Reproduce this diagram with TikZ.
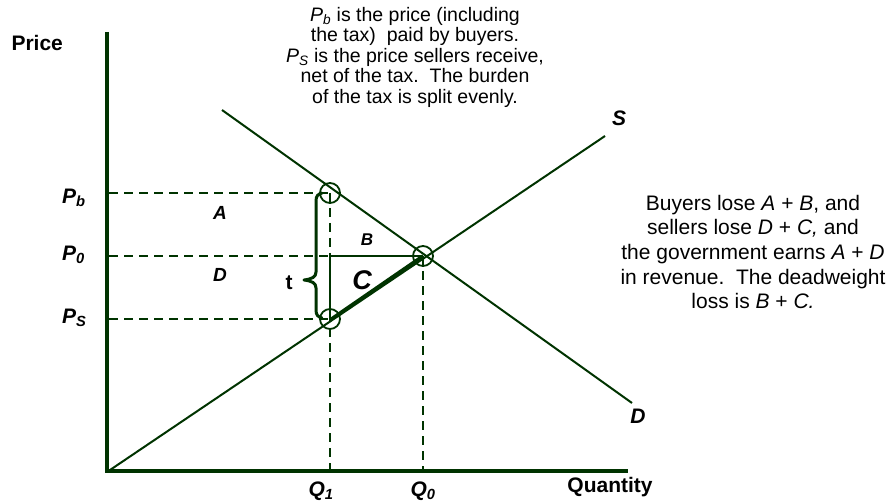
\documentclass[tikz,border=0pt]{standalone}
\usepackage{fontspec}
\setmainfont{Liberation Sans}
\definecolor{dg}{RGB}{0,51,0}
\begin{document}
\begin{tikzpicture}[x=1pt,y=-1pt,
  axisline/.style={line width=4.5pt, draw=dg},
  curveline/.style={line width=2pt, draw=dg},
  guide/.style={line width=2pt, draw=dg, dash pattern=on 9pt off 6pt},
  ring/.style={circle, draw=dg, line width=1.8pt, minimum size=20pt, inner sep=0pt},
  bracepath/.style={line width=3pt, draw=dg, line cap=round, line join=round},
  axlbl/.style={font=\bfseries\fontsize{21}{24}\selectfont, text=black},
  plbl/.style={font=\bfseries\itshape\fontsize{21}{24}\selectfont, text=black, inner sep=0pt},
  note/.style={align=center, text=black, inner sep=0pt}]
\useasboundingbox (0,0) rectangle (890,502);

% coordinates
\coordinate (ytop) at (107,32);
\coordinate (O) at (107,471);
\coordinate (xend) at (628,471);
\coordinate (yPb) at (109,193);
\coordinate (yP0) at (109,256);
\coordinate (yPs) at (109,319);
\coordinate (xQ1) at (330,469);
\coordinate (xQ0) at (423,469);
\coordinate (Sbot) at (110,470);
\coordinate (Stop) at (605,136);
\coordinate (Dtop) at (222,110);
\coordinate (Dbot) at (632,403);
\coordinate (P0Q1) at (330,256);

% guide lines
\draw[guide] (yPb) -- (330,193);
\draw[guide] (yP0) -- (P0Q1);
\draw[guide] (yPs) -- (330,319);
\draw[guide] (330,193) -- (xQ1);
\draw[guide] (423,256) -- (xQ0);

% triangle sides
\draw[line width=1.5pt, draw=dg] (P0Q1) -- (330,319);
\draw[line width=2.5pt, draw=dg] (P0Q1) -- (423,256);

% supply and demand
\draw[curveline] (Sbot) -- (Stop);
\draw[curveline] (Dtop) -- (Dbot);
\draw[line width=3.5pt, draw=dg] (330,320) -- (423,256);

% axes
\draw[axisline, line join=miter] (ytop) -- (O) -- (xend);

% rings
\node[ring] (Pbpt) at (330,193) {};
\node[ring] (Pspt) at (330,319) {};
\node[ring] (Ept) at (423,256) {};

% brace
\draw[bracepath] (322,193) .. controls (318,194) and (316,196) .. (316,201)
  -- (316,272) .. controls (316,277) and (312,279) .. (304,280)
  .. controls (312,281) and (316,283) .. (316,288)
  -- (316,310) .. controls (316,315) and (318,317) .. (322,318);

% labels
\node[axlbl, anchor=west] (price) at (8,43) {Price};
\node[axlbl] (qty) at (610,487) {Quantity};
\node[plbl, anchor=west] (lPb) at (62,198) {P\textsubscript{b}};
\node[plbl, anchor=west] (lP0) at (62,255) {P\textsubscript{0}};
\node[plbl, anchor=west] (lPs) at (62,318) {P\textsubscript{S}};
\node[plbl] (lQ1) at (321,491) {Q\textsubscript{1}};
\node[plbl] (lQ0) at (423,491) {Q\textsubscript{0}};
\node[plbl] (lS) at (619,118) {S};
\node[plbl] (lD) at (638,416) {D};
\node[plbl, font=\bfseries\itshape\fontsize{19}{22}\selectfont] (lA) at (220,213) {A};
\node[plbl, font=\bfseries\itshape\fontsize{19}{22}\selectfont] (lDD) at (220,275) {D};
\node[plbl, font=\bfseries\itshape\fontsize{17}{20}\selectfont] (lB) at (367,240) {B};
\node[plbl, font=\bfseries\itshape\fontsize{27}{30}\selectfont] (lC) at (362,280) {C};
\node[plbl, font=\bfseries\fontsize{21}{24}\selectfont] (lt) at (289,283) {t};

% notes
\node[note, font=\fontsize{19.5}{20.5}\selectfont] (topnote) at (415,57)
  {\textit{P}\textsubscript{\textit{b}} is the price (including\\
   the tax)\ \ paid by buyers.\\
   \textit{P}\textsubscript{\textit{S}} is the price sellers receive,\\
   net of the tax.\ \ The burden\\
   of the tax is split evenly.};
\node[note, font=\fontsize{21}{24.7}\selectfont] (rightnote) at (753,252)
  {Buyers lose \textit{A} + \textit{B}, and\\
   sellers lose \textit{D} + \textit{C,} and\\
   the government earns \textit{A} + \textit{D}\\
   in revenue.\ \ The deadweight\\
   loss is \textit{B} + \textit{C.}};
\end{tikzpicture}
\end{document}
